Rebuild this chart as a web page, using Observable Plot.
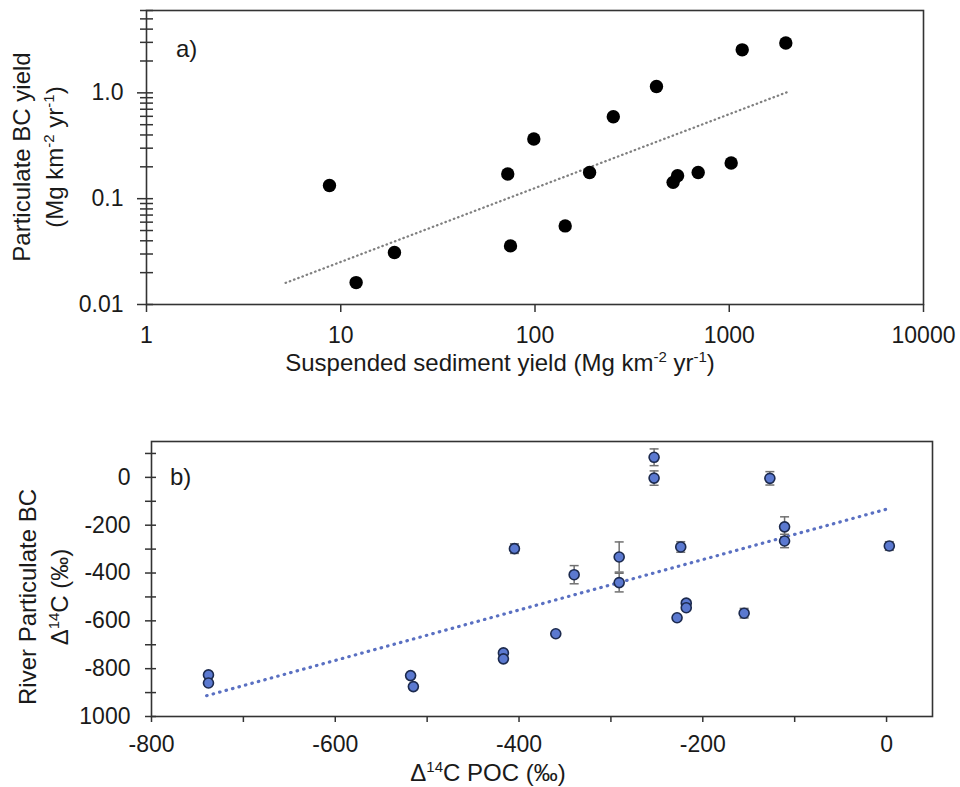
<!DOCTYPE html>
<html><head><meta charset="utf-8">
<script src="https://cdn.jsdelivr.net/npm/d3@7"></script>
<script src="https://cdn.jsdelivr.net/npm/@observablehq/plot@0.6"></script>
<style>
html,body{margin:0;padding:0;background:#fff;}
#chart svg{display:block;}
</style></head><body><div id="chart"></div>
<script>
// ---------- Panel a data ----------
const sedYield = [8.75, 12.0, 18.9, 72.4, 74.8, 98.6, 143, 191, 253, 422, 514, 542, 692, 1023, 1166, 1955];
const bcYield  = [0.133, 0.0161, 0.031, 0.171, 0.0358, 0.366, 0.0553, 0.177, 0.594, 1.148, 0.1426, 0.165, 0.177, 0.217, 2.55, 2.96];
const fitAx = [5.2, 2000];
const fitAy = [0.016, 1.02];
const xTicksA = [1, 10, 100, 1000, 10000];
const xTickLabelsA = ["1", "10", "100", "1000", "10000"];
const yMajorA = [0.01, 0.1, 1];
const yMajorLabelsA = ["0.01", "0.1", "1.0"];
const yMinorA = [0.02,0.03,0.04,0.05,0.06,0.07,0.08,0.09,0.2,0.3,0.4,0.5,0.6,0.7,0.8,0.9,2,3,4,5,6];

// ---------- Panel b data ----------
const pocD14C = [-738, -738, -518, -515, -417, -417, -405, -360, -340, -291, -291, -253, -253, -228, -224, -218, -218, -155, -127, -111, -111, 3];
const bcD14C  = [-826, -860, -829, -875, -734, -759, -298, -654, -407, -333, -440, 84, -3, -587, -291, -526, -545, -568, -4, -207, -266, -287];
const bcErr   = [0, 0, 0, 0, 0, 0, 20, 0, 38, 63, 39, 35, 30, 0, 22, 0, 0, 20, 28, 42, 28, 18];
const fitBx = [-740, 0];
const fitBy = [-913, -133];
const xTicksB = [-800, -700, -600, -500, -400, -300, -200, -100, 0];
const xLabelTicksB = [-800, -600, -400, -200, 0];
const xTickLabelsB = ["-800", "-600", "-400", "-200", "0"];
const yTicksB = [-1000, -900, -800, -700, -600, -500, -400, -300, -200, -100, 0, 100];
const yLabelTicksB = [0, -200, -400, -600, -800, -1000];
const yTickLabelsB = ["0", "-200", "-400", "-600", "-800", "1000"];

const FONT = "'Liberation Sans', Arial, Helvetica, sans-serif";
const INK = "#1a1a1a";
const AXC = "#333";

const ptsA = sedYield.map((x, i) => ({x, y: bcYield[i]}));
const fitA = fitAx.map((x, i) => ({x, y: fitAy[i]}));
const ptsB = pocD14C.map((x, i) => ({x, y: bcD14C[i], e: bcErr[i]}));
const errB = ptsB.filter(d => d.e > 0);
const fitB = fitBx.map((x, i) => ({x, y: fitBy[i]}));

const capSymbol = {draw(ctx) { ctx.moveTo(-4.5, 0); ctx.lineTo(4.5, 0); }};

const plotA = Plot.plot({
  width: 960, height: 390,
  marginLeft: 146, marginRight: 37, marginTop: 10, marginBottom: 86,
  style: {fontFamily: FONT, color: INK, background: "#fff", overflow: "visible"},
  x: {type: "log", domain: [1, 10000], axis: null},
  y: {type: "log", domain: [0.01, 6], axis: null},
  marks: [
    Plot.line(fitA, {x: "x", y: "y", stroke: "#808080", strokeWidth: 2.3, strokeDasharray: "0.5,4", strokeLinecap: "round"}),
    Plot.dot(ptsA, {x: "x", y: "y", r: 6.7, fill: "#000", stroke: "none"}),
    Plot.frame({stroke: AXC, strokeWidth: 1.6}),
    Plot.axisX(xTicksA, {anchor: "bottom", tickSize: 8, tickPadding: 14, fontSize: 23, stroke: AXC, strokeWidth: 1.5, tickFormat: (d, i) => xTickLabelsA[xTicksA.indexOf(d)], label: null}),
    Plot.axisY(yMinorA, {anchor: "left", tickSize: 13, dx: 7, stroke: AXC, strokeWidth: 1.5, fill: "none", label: null}),
    Plot.axisY(yMajorA, {anchor: "left", tickSize: 16, dx: 7, stroke: AXC, strokeWidth: 1.5, fill: "none", label: null}),
    Plot.axisY(yMajorA, {anchor: "left", tickSize: 0, tickPadding: 23, fontSize: 23, tickFormat: d => yMajorLabelsA[yMajorA.indexOf(d)], label: null})
  ]
});

const plotB = Plot.plot({
  width: 960, height: 397,
  marginLeft: 151, marginRight: 28, marginTop: 51, marginBottom: 71,
  style: {fontFamily: FONT, color: INK, background: "#fff", overflow: "visible"},
  x: {domain: [-800, 50], axis: null},
  y: {domain: [-1000, 150], axis: null},
  marks: [
    Plot.line(fitB, {x: "x", y: "y", stroke: "#5a70c2", strokeWidth: 3.2, strokeDasharray: "0.5,6.2", strokeLinecap: "round"}),
    Plot.ruleX(errB, {x: "x", y1: d => d.y - d.e, y2: d => d.y + d.e, stroke: "#707070", strokeWidth: 1.5}),
    Plot.dot(errB, {x: "x", y: d => d.y - d.e, symbol: capSymbol, stroke: "#707070", strokeWidth: 1.5, fill: "none"}),
    Plot.dot(errB, {x: "x", y: d => d.y + d.e, symbol: capSymbol, stroke: "#707070", strokeWidth: 1.5, fill: "none"}),
    Plot.dot(ptsB, {x: "x", y: "y", r: 5, fill: "#5b79d0", stroke: "#1c2a4e", strokeWidth: 1.6}),
    Plot.frame({stroke: AXC, strokeWidth: 1.6}),
    Plot.axisX(xTicksB, {anchor: "bottom", tickSize: 6, stroke: AXC, strokeWidth: 1.5, fill: "none", label: null}),
    Plot.axisX(xLabelTicksB, {anchor: "bottom", tickSize: 0, tickPadding: 19, fontSize: 23, tickFormat: d => xTickLabelsB[xLabelTicksB.indexOf(d)], label: null}),
    Plot.axisY(yTicksB, {anchor: "left", tickSize: 11, dx: 5, stroke: AXC, strokeWidth: 1.5, fill: "none", label: null}),
    Plot.axisY(yLabelTicksB, {anchor: "left", tickSize: 0, tickPadding: 21, fontSize: 23, tickFormat: d => yTickLabelsB[yLabelTicksB.indexOf(d)], label: null})
  ]
});

function addText(svg, x, y, rotate, parts, anchor) {
  const t = d3.select(svg).append("text")
    .attr("transform", `translate(${x},${y})` + (rotate ? ` rotate(${rotate})` : ""))
    .attr("text-anchor", anchor || "middle")
    .attr("font-family", FONT).attr("font-size", 24).attr("fill", INK);
  let shifted = false;
  for (const p of parts) {
    const s = t.append("tspan").text(p.t);
    if (p.sup) { s.attr("font-size", 15).attr("dy", -9); shifted = true; }
    else if (shifted) { s.attr("dy", 9); shifted = false; }
  }
}

// Panel a titles
addText(plotA, 500, 371, 0, [{t: "Suspended sediment yield (Mg km"}, {t: "-2", sup: true}, {t: " yr"}, {t: "-1", sup: true}, {t: ")"}]);
addText(plotA, 30, 157, -90, [{t: "Particulate BC yield"}]);
addText(plotA, 63, 157, -90, [{t: "(Mg km"}, {t: "-2", sup: true}, {t: " yr"}, {t: "-1", sup: true}, {t: ")"}]);
addText(plotA, 176, 57, 0, [{t: "a)"}], "start");

// Panel b titles
addText(plotB, 488, 391, 0, [{t: "\u0394"}, {t: "14", sup: true}, {t: "C POC (\u2030)"}]);
addText(plotB, 36, 207, -90, [{t: "River Particulate BC"}]);
addText(plotB, 68, 207, -90, [{t: "\u0394"}, {t: "14", sup: true}, {t: "C (\u2030)"}]);
addText(plotB, 170, 95, 0, [{t: "b)"}], "start");

document.getElementById("chart").append(plotA, plotB);
</script></body></html>
